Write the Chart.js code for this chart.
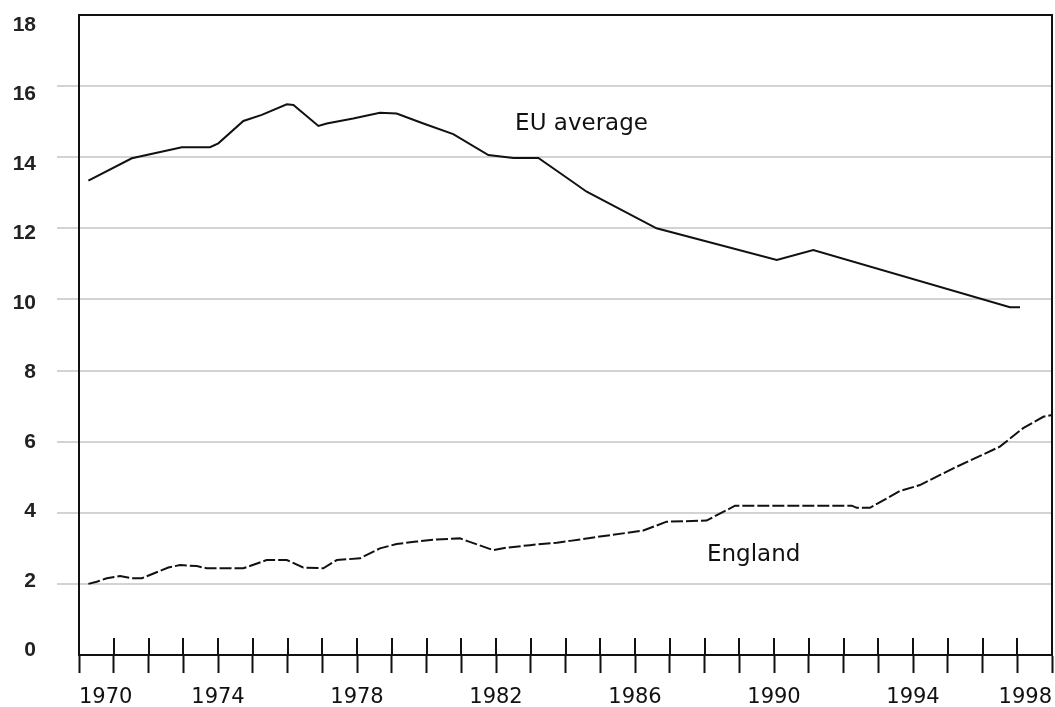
<!DOCTYPE html>
<html>
<head>
<meta charset="utf-8">
<script src="https://cdn.jsdelivr.net/npm/chart.js@4.4.1/dist/chart.umd.min.js"></script>
<style>
  html, body { margin: 0; padding: 0; background: #fff; }
  #wrap { width: 1055px; height: 707px; }
</style>
</head>
<body>
<div id="wrap"><canvas id="c" width="1055" height="707"></canvas></div>
<script>
// ---- data ----
const euYears  = [1970.27, 1971.52, 1972.96, 1973.77, 1974.01, 1974.73, 1975.26, 1975.98, 1976.17, 1976.89, 1977.13, 1977.89, 1978.66, 1979.14, 1979.91, 1980.77, 1981.78, 1982.5, 1983.22, 1984.13, 1984.61, 1986.62, 1990.08, 1991.13, 1996.79, 1997.08];
const euValues = [13.34, 13.97, 14.28, 14.28, 14.39, 15.02, 15.19, 15.49, 15.47, 14.88, 14.95, 15.09, 15.25, 15.23, 14.95, 14.65, 14.06, 13.98, 13.98, 13.36, 13.03, 12.0, 11.11, 11.39, 9.78, 9.78];

const engYears  = [1970.27, 1970.51, 1970.8, 1971.18, 1971.52, 1971.81, 1972.57, 1972.91, 1973.39, 1973.67, 1974.73, 1975.4, 1975.98, 1976.45, 1977.03, 1977.42, 1978.09, 1978.66, 1979.14, 1979.71, 1980.29, 1980.96, 1981.16, 1981.92, 1982.31, 1982.98, 1983.75, 1984.13, 1984.99, 1986.24, 1986.91, 1988.06, 1988.88, 1992.24, 1992.38, 1992.76, 1993.62, 1994.2, 1995.16, 1996.5, 1997.17, 1997.75, 1998.0];
const engValues = [2.0, 2.06, 2.16, 2.22, 2.16, 2.16, 2.46, 2.53, 2.5, 2.44, 2.44, 2.67, 2.67, 2.46, 2.44, 2.67, 2.72, 3.0, 3.12, 3.19, 3.25, 3.28, 3.21, 2.95, 3.02, 3.09, 3.16, 3.21, 3.33, 3.5, 3.75, 3.78, 4.2, 4.2, 4.14, 4.14, 4.61, 4.78, 5.25, 5.86, 6.38, 6.7, 6.75];

const xMin = 1970, xMax = 1998;
const xLabelYears = [1970, 1974, 1978, 1982, 1986, 1990, 1994, 1998];
const yTickValues = [0, 2, 4, 6, 8, 10, 12, 14, 16, 18];

const seriesNames = ['EU average', 'England'];
const annotationText = ['EU average', 'England'];
const annotationX = [1982.55, 1988.07];
const annotationY = [14.76, 2.64];

// ---- helpers ----
function toPoints(xs, ys) { return xs.map((x, i) => ({ x: x, y: ys[i] })); }
function noPad(s) { s.paddingTop = 0; s.paddingBottom = 0; s.paddingLeft = 0; s.paddingRight = 0; }

const frameAndTicks = {
  id: 'frameAndTicks',
  afterDraw(chart) {
    const ctx = chart.ctx, a = chart.chartArea, xs = chart.scales.x;
    ctx.save();
    ctx.strokeStyle = '#111';
    ctx.lineWidth = 2;
    ctx.strokeRect(a.left, a.top, a.right - a.left, a.bottom - a.top);
    // tick marks crossing the axis line upward
    ctx.beginPath();
    xs.ticks.forEach(t => {
      const px = Math.round(xs.getPixelForValue(t.value));
      ctx.moveTo(px, a.bottom - 17);
      ctx.lineTo(px, a.bottom);
    });
    ctx.stroke();
    // annotations
    ctx.fillStyle = '#111';
    ctx.font = '23px "DejaVu Sans"';
    ctx.textBaseline = 'alphabetic';
    ctx.textAlign = 'left';
    annotationText.forEach((txt, i) => {
      ctx.fillText(txt, xs.getPixelForValue(annotationX[i]), chart.scales.y.getPixelForValue(annotationY[i]));
    });
    ctx.restore();
  }
};

new Chart(document.getElementById('c'), {
  type: 'line',
  data: {
    datasets: [
      {
        label: seriesNames[0],
        data: toPoints(euYears, euValues),
        borderColor: '#111',
        borderWidth: 2,
        pointRadius: 0,
        tension: 0,
        fill: false
      },
      {
        label: seriesNames[1],
        data: toPoints(engYears, engValues),
        borderColor: '#111',
        borderWidth: 2,
        borderDash: [12, 3],
        pointRadius: 0,
        tension: 0,
        fill: false
      }
    ]
  },
  options: {
    responsive: false,
    devicePixelRatio: 1,
    animation: false,
    events: [],
    layout: { padding: { top: 15, right: 3, left: 0, bottom: 0 } },
    plugins: { legend: { display: false }, tooltip: { enabled: false } },
    scales: {
      x: {
        type: 'linear',
        min: xMin,
        max: xMax,
        grid: { drawOnChartArea: false, drawTicks: true, tickLength: 18, tickColor: '#111', tickWidth: 2, color: '#111' },
        border: { color: '#111', width: 2 },
        afterBuildTicks(s) {
          const t = [];
          for (let v = xMin; v <= xMax; v++) t.push({ value: v });
          s.ticks = t;
        },
        ticks: {
          autoSkip: false,
          maxRotation: 0,
          align: 'inner',
          padding: 12,
          color: '#111',
          font: { family: '"DejaVu Sans"', size: 21 },
          callback: (v) => xLabelYears.includes(v) ? String(v) : ''
        },
        afterFit(s) { s.height = 52; noPad(s); }
      },
      y: {
        type: 'linear',
        position: 'left',
        weight: 0,
        min: 0,
        max: 18,
        afterBuildTicks(s) { s.ticks = yTickValues.map(v => ({ value: v })); },
        grid: {
          drawTicks: true,
          tickLength: 22,
          lineWidth: 2,
          color: (c) => (c.tick && (c.tick.value === 0 || c.tick.value === 18)) ? 'rgba(0,0,0,0)' : '#d3d3d3'
        },
        border: { color: '#111', width: 2 },
        ticks: { display: false },
        afterFit(s) { s.width = 22; noPad(s); }
      },
      yl: {
        type: 'linear',
        position: 'left',
        weight: 1,
        min: -0.124,
        max: 18.288,
        afterBuildTicks(s) { s.ticks = yTickValues.map(v => ({ value: v })); },
        grid: { display: false, drawTicks: false },
        border: { display: false },
        ticks: {
          padding: 21,
          color: '#222',
          font: { family: '"Liberation Sans"', size: 21, weight: 'bold' }
        },
        afterFit(s) { s.width = 57; noPad(s); }
      }
    }
  },
  plugins: [frameAndTicks]
});
</script>
</body>
</html>
